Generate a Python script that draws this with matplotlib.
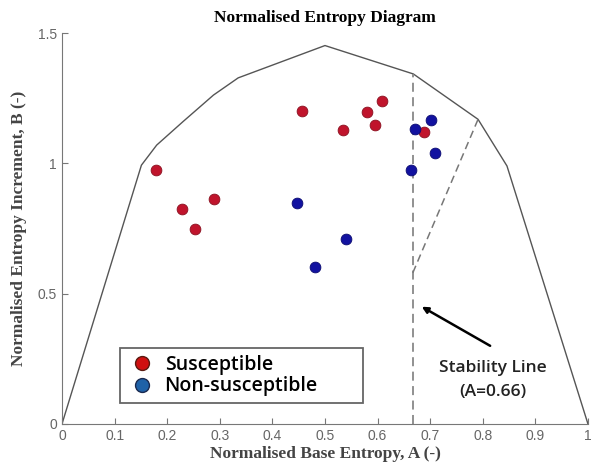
import numpy as np
import matplotlib.pyplot as plt

# boundary of the entropy diagram
bound_a = [0, 0.151, 0.18, 0.23, 0.288, 0.335, 0.5, 0.668, 0.791, 0.846, 1.0]
bound_b = [0, 0.993, 1.07, 1.16, 1.262, 1.328, 1.452, 1.343, 1.169, 0.99, 0]

sus_a = [0.179, 0.229, 0.253, 0.289, 0.456, 0.535, 0.579, 0.596, 0.609, 0.689]
sus_b = [0.974, 0.824, 0.747, 0.862, 1.202, 1.128, 1.196, 1.149, 1.239, 1.121]

non_a = [0.446, 0.540, 0.481, 0.663, 0.671, 0.701, 0.709]
non_b = [0.846, 0.710, 0.601, 0.974, 1.132, 1.166, 1.038]

stab_a = 0.667
xticks = np.arange(0, 1.01, 0.1)
xlabels = ["0", "0.1", "0.2", "0.3", "0.4", "0.5", "0.6", "0.7", "0.8", "0.9", "1"]
yticks = [0, 0.5, 1, 1.5]
ylabels = ["0", "0.5", "1", "1.5"]

fig = plt.figure(figsize=(5.92, 4.72), dpi=100)
ax = fig.add_axes([0.1047, 0.1017, 0.8885, 0.8283])

ax.plot(bound_a, bound_b, color="#555555", lw=1.0)
ax.plot([stab_a, stab_a], [0, 1.343], color="#888888", lw=1.3, ls=(0, (5, 3)))
ax.plot([stab_a, 0.791], [0.58, 1.169], color="#777777", lw=1.1, ls=(0, (5, 3)))

ax.scatter(sus_a, sus_b, s=60, color="#c0142c", edgecolors="#8a1020", linewidths=0.6, zorder=3)
ax.scatter(non_a, non_b, s=60, color="#1212a0", edgecolors="#0a0a70", linewidths=0.6, zorder=3)

# legend drawn with proxies (lighter blue than the scatter, as in the figure)
h1, = ax.plot([], [], "o", ms=10, mfc="#d01010", mec="#5a1a10", mew=1.0)
h2, = ax.plot([], [], "o", ms=10, mfc="#1f62a8", mec="#1a2a50", mew=1.0)
leg = ax.legend([h1, h2], ["Susceptible", "Non-susceptible"],
                loc="center left", bbox_to_anchor=(0.11, 0.051, 0.462, 0.146),
                mode="expand", borderaxespad=0, fancybox=False, framealpha=1,
                edgecolor="#666666", borderpad=0.35, handletextpad=0.35,
                labelspacing=0.1, handlelength=1.6,
                prop={"family": "Open Sans", "weight": "semibold", "size": 14})
leg.get_frame().set_linewidth(1.3)

ax.text(0.819, 0.169, "Stability Line\n(A=0.66)", ha="center", va="center",
        fontsize=12.5, fontfamily="Open Sans", fontweight="semibold",
        color="#222222", linespacing=1.6)
ax.annotate("", xy=(0.684, 0.45), xytext=(0.814, 0.30),
            arrowprops=dict(arrowstyle="-|>", color="black", lw=1.8,
                            shrinkA=0, shrinkB=0, mutation_scale=9))

ax.set_xlim(0, 1)
ax.set_ylim(0, 1.5)
ax.set_xticks(xticks)
ax.set_xticklabels(xlabels, fontfamily="Liberation Sans")
ax.set_yticks(yticks)
ax.set_yticklabels(ylabels, fontfamily="Liberation Sans")
ax.tick_params(direction="in", length=4, color="#777777", labelcolor="#666666", labelsize=10)
for s in ["top", "right"]:
    ax.spines[s].set_visible(False)
for s in ["left", "bottom"]:
    ax.spines[s].set_color("#777777")

ax.set_title("Normalised Entropy Diagram", fontfamily="Liberation Serif",
             fontweight="bold", fontsize=12.5, pad=8)
ax.set_xlabel("Normalised Base Entropy, A (-)", fontfamily="Liberation Serif",
              fontweight="bold", fontsize=12.5, color="#444444", labelpad=2)
ax.set_ylabel("Normalised Entropy Increment, B (-)", fontfamily="Liberation Serif",
              fontweight="bold", fontsize=12.5, color="#444444", labelpad=8)

fig.savefig("out.png", dpi=100)
